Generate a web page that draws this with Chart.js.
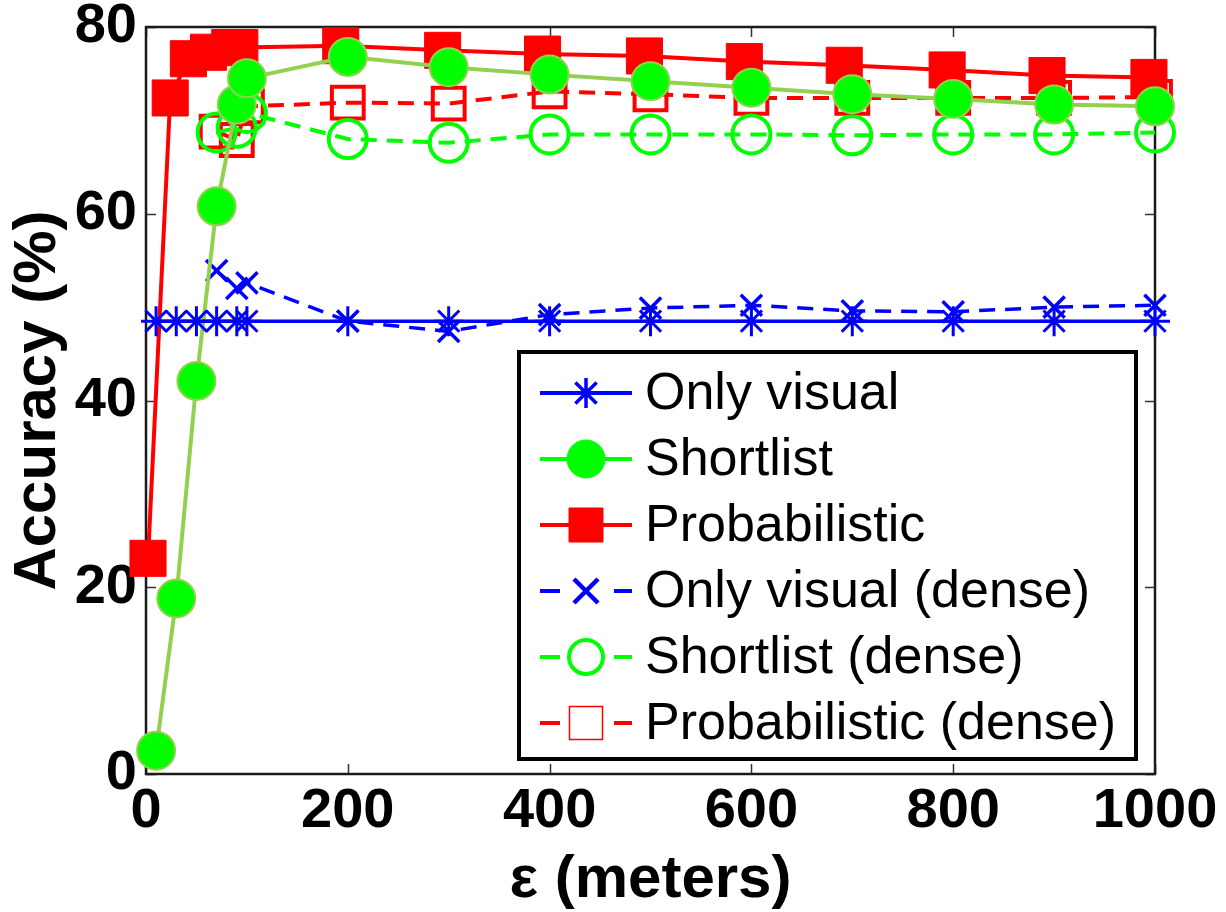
<!DOCTYPE html>
<html><head><meta charset="utf-8">
<script src="https://cdn.jsdelivr.net/npm/chart.js@4.4.1/dist/chart.umd.min.js"></script>
<style>html,body{margin:0;padding:0;background:#fff;overflow:hidden}</style>
</head><body>
<canvas id="c" width="1226" height="912"></canvas>
<script>
// ---- data ----
const xTicks = [0, 200, 400, 600, 800, 1000];
const yTicks = [0, 20, 40, 60, 80];
const xMain = [10, 30, 50, 70, 90, 100, 200, 300, 400, 500, 600, 700, 800, 900, 1000];
const onlyVisual = [48.5, 48.5, 48.5, 48.5, 48.5, 48.5, 48.5, 48.5, 48.5, 48.5, 48.5, 48.5, 48.5, 48.5, 48.5];
const shortlist = [2.5, 18.8, 42.1, 60.8, 71.7, 74.5, 76.8, 75.7, 74.9, 74.2, 73.5, 72.8, 72.3, 71.7, 71.5];
const probX = [2, 24, 42, 62, 83, 93, 193, 294, 393, 494, 593, 692, 794, 893, 994];
const prob = [23.1, 72.4, 76.6, 77.3, 77.8, 77.8, 78.0, 77.5, 77.1, 76.9, 76.3, 75.9, 75.4, 74.8, 74.6];
const denseX = [70, 90, 100, 200, 300, 400, 500, 600, 700, 800, 900, 1000];
const onlyVisualDense = [53.9, 52.0, 52.6, 48.5, 47.4, 49.2, 49.9, 50.2, 49.6, 49.5, 50.0, 50.2];
const shortlistDense = [68.7, 69.2, 70.8, 68.0, 67.6, 68.5, 68.5, 68.5, 68.4, 68.5, 68.5, 68.7];
const probDense = [68.8, 67.9, 71.5, 71.9, 71.8, 73.1, 72.8, 72.4, 72.4, 72.4, 72.4, 72.5];
const labels = ['Only visual', 'Shortlist', 'Probabilistic', 'Only visual (dense)', 'Shortlist (dense)', 'Probabilistic (dense)'];

const pts = (xs, ys) => xs.map((x, i) => ({x: x, y: ys[i]}));
const BLUE = '#0000FF', RED = '#FF0000', GREEN = '#00FF00', LGREEN = '#92D050';
const DASH = [16, 10];

const datasets = [
  {label: labels[0], data: pts(xMain, onlyVisual), borderColor: BLUE, backgroundColor: BLUE, borderWidth: 3.5,
   pointStyle: 'star', pointRadius: 15, pointBorderWidth: 3, pointBorderColor: BLUE, order: 1,
   legend: {line: BLUE, dash: false, marker: 'star', fill: null, stroke: BLUE, r: 15, lw: 3.5}},
  {label: labels[1], data: pts(xMain, shortlist), borderColor: LGREEN, backgroundColor: GREEN, borderWidth: 4,
   pointStyle: 'circle', pointRadius: 19, pointBorderWidth: 2, pointBorderColor: LGREEN, pointBackgroundColor: GREEN, order: 2,
   legend: {line: GREEN, dash: false, marker: 'circle', fill: GREEN, stroke: GREEN, r: 19, lw: 1}},
  {label: labels[2], data: pts(probX, prob), borderColor: RED, backgroundColor: RED, borderWidth: 4,
   pointStyle: 'rect', pointRadius: 25.5, pointBorderWidth: 1, pointBorderColor: RED, pointBackgroundColor: RED, order: 3,
   legend: {line: RED, dash: false, marker: 'rect', fill: RED, stroke: RED, r: 17, lw: 1}},
  {label: labels[3], data: pts(denseX, onlyVisualDense), borderColor: BLUE, backgroundColor: BLUE, borderWidth: 3.5, borderDash: DASH,
   pointStyle: 'crossRot', pointRadius: 15, pointBorderWidth: 3.5, pointBorderColor: BLUE, order: 4,
   legend: {line: BLUE, dash: true, marker: 'crossRot', fill: null, stroke: BLUE, r: 17, lw: 4.5}},
  {label: labels[4], data: pts(denseX, shortlistDense), borderColor: GREEN, backgroundColor: 'rgba(0,0,0,0)', borderWidth: 4, borderDash: DASH,
   pointStyle: 'circle', pointRadius: 19, pointBorderWidth: 4, pointBorderColor: GREEN, pointBackgroundColor: 'rgba(0,0,0,0)', order: 5,
   legend: {line: GREEN, dash: true, marker: 'circle', fill: null, stroke: GREEN, r: 17, lw: 4}},
  {label: labels[5], data: pts(denseX, probDense), borderColor: RED, backgroundColor: 'rgba(0,0,0,0)', borderWidth: 4, borderDash: DASH,
   pointStyle: 'rect', pointRadius: 22.5, pointBorderWidth: 4, pointBorderColor: RED, pointBackgroundColor: 'rgba(0,0,0,0)', order: 6,
   legend: {line: RED, dash: true, marker: 'rect', fill: null, stroke: RED, r: 16.5, lw: 1.5}}
];
datasets.forEach(d => { d.clip = false; d.tension = 0; d.fill = false; d.pointHoverRadius = d.pointRadius; });

const frame = {
  id: 'frame',
  beforeDatasetsDraw(chart) {
    const {ctx, chartArea: a, scales: {x, y}} = chart;
    ctx.save();
    ctx.strokeStyle = '#333';
    ctx.lineWidth = 1.5;
    const L = 10;
    ctx.beginPath();
    xTicks.forEach(v => {
      const px = Math.round(x.getPixelForValue(v)) + 0.5;
      ctx.moveTo(px, a.bottom); ctx.lineTo(px, a.bottom - L);
      ctx.moveTo(px, a.top); ctx.lineTo(px, a.top + L);
    });
    yTicks.forEach(v => {
      const py = Math.round(y.getPixelForValue(v)) + 0.5;
      ctx.moveTo(a.left, py); ctx.lineTo(a.left + L, py);
      ctx.moveTo(a.right, py); ctx.lineTo(a.right - L, py);
    });
    ctx.stroke();
    ctx.strokeStyle = '#1a1a1a';
    ctx.lineWidth = 2.5;
    ctx.strokeRect(a.left, a.top, a.right - a.left, a.bottom - a.top);
    ctx.restore();
  }
};

function marker(ctx, kind, cx, cy, r, fill, stroke, lw) {
  ctx.save();
  ctx.lineWidth = lw;
  ctx.strokeStyle = stroke;
  ctx.beginPath();
  if (kind === 'circle') {
    ctx.arc(cx, cy, r, 0, Math.PI * 2);
    if (fill) { ctx.fillStyle = fill; ctx.fill(); }
    ctx.stroke();
  } else if (kind === 'rect') {
    ctx.rect(cx - r, cy - r, 2 * r, 2 * r);
    if (fill) { ctx.fillStyle = fill; ctx.fill(); }
    ctx.stroke();
  } else if (kind === 'star') {
    for (let k = 0; k < 4; k++) {
      const ang = k * Math.PI / 4;
      ctx.moveTo(cx - Math.cos(ang) * r, cy - Math.sin(ang) * r);
      ctx.lineTo(cx + Math.cos(ang) * r, cy + Math.sin(ang) * r);
    }
    ctx.stroke();
  } else if (kind === 'crossRot') {
    const o = r * Math.SQRT1_2;
    ctx.moveTo(cx - o, cy - o); ctx.lineTo(cx + o, cy + o);
    ctx.moveTo(cx - o, cy + o); ctx.lineTo(cx + o, cy - o);
    ctx.stroke();
  }
  ctx.restore();
}

const legendBox = {
  id: 'legendBox',
  afterDraw(chart) {
    const ctx = chart.ctx;
    const bx = 519, by = 352, bw = 617, bh = 407;
    ctx.save();
    ctx.fillStyle = '#fff';
    ctx.fillRect(bx, by, bw, bh);
    ctx.lineWidth = 4;
    ctx.strokeStyle = '#000';
    ctx.strokeRect(bx, by, bw, bh);
    ctx.font = '52px "Liberation Sans", Arial, sans-serif';
    ctx.textBaseline = 'middle';
    ctx.fillStyle = '#000';
    chart.data.datasets.forEach((d, i) => {
      const g = d.legend;
      const cy = 393 + i * 66;
      const x0 = 540, x1 = 632, mx = 586;
      ctx.strokeStyle = g.line;
      ctx.lineWidth = 4;
      ctx.beginPath();
      if (g.dash) {
        ctx.moveTo(x0, cy); ctx.lineTo(x0 + 20, cy);
        ctx.moveTo(x1 - 18, cy); ctx.lineTo(x1, cy);
      } else {
        ctx.moveTo(x0, cy); ctx.lineTo(x1, cy);
      }
      ctx.stroke();
      marker(ctx, g.marker, mx, cy, g.r, g.fill, g.stroke, g.lw);
      ctx.fillStyle = '#000';
      ctx.fillText(d.label, 645, cy + 2);
    });
    ctx.restore();
  }
};

const tickFont = {family: '"Liberation Sans", Arial, sans-serif', size: 56, weight: 'bold', lineHeight: 0.9};
const titleFont = {family: '"Liberation Sans", Arial, sans-serif', size: 60, weight: 'bold', lineHeight: 1.2};
const zeroPad = s => { s.paddingTop = 0; s.paddingBottom = 0; s.paddingLeft = 0; s.paddingRight = 0; };

new Chart(document.getElementById('c'), {
  type: 'line',
  data: {datasets: datasets},
  plugins: [frame, legendBox],
  options: {
    responsive: false,
    animation: false,
    events: [],
    devicePixelRatio: 1,
    layout: {padding: {left: 0, right: 71, top: 27, bottom: 0}},
    plugins: {legend: {display: false}, tooltip: {enabled: false}},
    scales: {
      x: {
        type: 'linear', min: 0, max: 1000,
        afterBuildTicks: s => { s.ticks = xTicks.map(v => ({value: v})); },
        afterFit: s => { s.height = 138; zeroPad(s); },
        grid: {display: false, drawTicks: false},
        border: {display: false},
        ticks: {color: '#000', font: tickFont, padding: 12, maxRotation: 0, autoSkip: false, callback: v => String(v)},
        title: {display: true, text: 'ε (meters)', color: '#000', font: titleFont, padding: {top: 0, bottom: -4}}
      },
      y: {
        type: 'linear', min: 0, max: 80,
        afterBuildTicks: s => { s.ticks = yTicks.map(v => ({value: v})); },
        afterFit: s => { s.width = 146; zeroPad(s); },
        grid: {display: false, drawTicks: false},
        border: {display: false},
        ticks: {color: '#000', font: tickFont, padding: 9, autoSkip: false, callback: v => String(v)},
        title: {display: true, text: 'Accuracy (%)', color: '#000', font: titleFont, padding: {top: 2, bottom: 0}}
      }
    }
  }
});
</script>
</body></html>
